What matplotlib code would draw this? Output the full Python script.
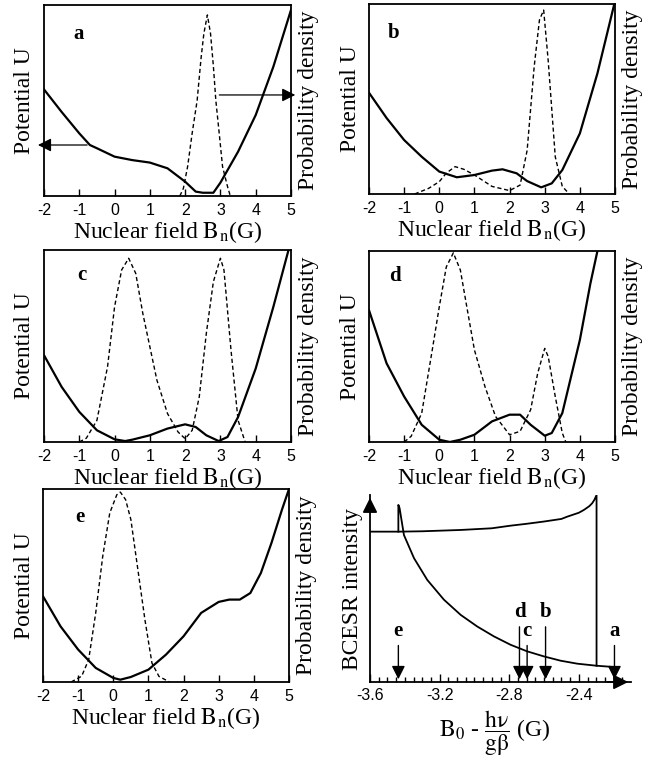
import matplotlib
matplotlib.use('Agg')
import matplotlib.pyplot as plt

plt.rcParams['font.family'] = ['Liberation Serif', 'DejaVu Serif']
plt.rcParams['mathtext.fontset'] = 'stix'
plt.rcParams['axes.unicode_minus'] = False

# potential U (solid) and probability density (dashed), normalised to axes height
pot_a_x = [-2, -1.5, -1, -0.7, -0.5, 0, 0.5, 1, 1.5, 2, 2.3, 2.5, 2.8, 3, 3.5, 4, 4.5, 5]
pot_a_y = [0.558, 0.44, 0.328, 0.267, 0.25, 0.206, 0.188, 0.175, 0.145, 0.075, 0.023, 0.017, 0.017, 0.07, 0.232, 0.424, 0.677, 0.974]
pdf_a_x = [1.85, 1.95, 2.07, 2.2, 2.34, 2.45, 2.53, 2.63, 2.72, 2.8, 2.87, 2.97, 3.06, 3.2, 3.28]
pdf_a_y = [0, 0.04, 0.154, 0.33, 0.5, 0.72, 0.85, 0.948, 0.85, 0.68, 0.5, 0.32, 0.154, 0.05, 0]

pot_b_x = [-2, -1.5, -1, -0.5, 0, 0.5, 1, 1.5, 1.8, 2.2, 2.5, 2.9, 3.2, 3.5, 4, 4.5, 4.98]
pot_b_y = [0.533, 0.40, 0.284, 0.196, 0.118, 0.088, 0.1, 0.123, 0.13, 0.109, 0.068, 0.035, 0.056, 0.126, 0.319, 0.635, 1.0]
pdf_b_x = [-0.7, -0.3, 0, 0.2, 0.45, 0.7, 1, 1.5, 2, 2.3, 2.5, 2.7, 2.85, 2.97, 3.1, 3.3, 3.5, 3.7]
pdf_b_y = [0, 0.03, 0.065, 0.11, 0.144, 0.13, 0.1, 0.04, 0.018, 0.047, 0.23, 0.67, 0.916, 0.968, 0.70, 0.196, 0.04, 0]

pot_c_x = [-2, -1.5, -1, -0.5, 0, 0.3, 0.5, 1, 1.5, 2, 2.3, 2.6, 2.95, 3.2, 3.5, 4, 4.5, 4.93]
pot_c_y = [0.452, 0.287, 0.157, 0.061, 0.014, 0.005, 0.012, 0.035, 0.07, 0.092, 0.078, 0.035, 0.005, 0.026, 0.13, 0.383, 0.704, 1.0]
pdf_c_x = [-1, -0.8, -0.5, -0.2, 0, 0.2, 0.4, 0.6, 0.8, 1, 1.2, 1.5, 1.8, 2, 2.2, 2.4, 2.6, 2.8, 3, 3.1, 3.3, 3.5, 3.7]
pdf_c_y = [0, 0.02, 0.113, 0.391, 0.704, 0.896, 0.957, 0.878, 0.67, 0.496, 0.322, 0.148, 0.052, 0.017, 0.061, 0.235, 0.565, 0.835, 0.957, 0.896, 0.478, 0.113, 0]

pot_d_x = [-2, -1.5, -1, -0.5, 0, 0.3, 0.6, 1, 1.5, 2, 2.3, 2.6, 3, 3.2, 3.5, 4, 4.3, 4.5]
pot_d_y = [0.69, 0.412, 0.238, 0.09, 0.012, 0, 0.012, 0.038, 0.108, 0.143, 0.143, 0.09, 0.033, 0.047, 0.151, 0.534, 0.83, 1.0]
pdf_d_x = [-1, -0.8, -0.5, -0.2, 0, 0.2, 0.4, 0.6, 0.8, 1, 1.3, 1.6, 2, 2.3, 2.6, 2.8, 3, 3.1, 3.3, 3.5, 3.6]
pdf_d_y = [0, 0.03, 0.151, 0.482, 0.708, 0.917, 0.99, 0.9, 0.69, 0.482, 0.29, 0.134, 0.038, 0.056, 0.169, 0.36, 0.49, 0.447, 0.238, 0.047, 0]

pot_e_x = [-2, -1.5, -1, -0.5, 0, 0.2, 0.5, 1, 1.5, 2, 2.5, 3, 3.3, 3.6, 3.9, 4.2, 4.5, 4.8, 5]
pot_e_y = [0.444, 0.288, 0.168, 0.073, 0.021, 0.012, 0.026, 0.064, 0.142, 0.237, 0.358, 0.415, 0.427, 0.427, 0.461, 0.565, 0.72, 0.893, 1.0]
pdf_e_x = [-1.2, -0.9, -0.7, -0.5, -0.3, -0.1, 0.1, 0.2, 0.35, 0.5, 0.7, 0.9, 1.1, 1.3, 1.6]
pdf_e_y = [0, 0.03, 0.116, 0.358, 0.652, 0.876, 0.97, 0.984, 0.945, 0.842, 0.582, 0.323, 0.098, 0.029, 0]

# BCESR spectrum
upper_x = [-3.6, -3.437, -3.3, -3.079, -2.9, -2.792, -2.7, -2.601, -2.5, -2.467, -2.4, -2.371, -2.34, -2.323, -2.31, -2.298, -2.298]
upper_y = [0.804, 0.804, 0.806, 0.813, 0.822, 0.836, 0.846, 0.858, 0.872, 0.884, 0.905, 0.92, 0.94, 0.956, 0.975, 1.0, 0.087]
lower_x = [-3.437, -3.437, -3.43, -3.405, -3.347, -3.271, -3.175, -3.079, -2.984, -2.888, -2.792, -2.697, -2.601, -2.505, -2.409, -2.298, -2.195]
lower_y = [0.804, 0.947, 0.93, 0.786, 0.662, 0.546, 0.44, 0.359, 0.297, 0.244, 0.199, 0.164, 0.137, 0.114, 0.098, 0.087, 0.08]
mark_labels = ['e', 'd', 'c', 'b', 'a']
mark_x = [-3.437, -2.741, -2.697, -2.591, -2.195]
mark_top = [0.21, 0.31, 0.21, 0.31, 0.21]

W, H = 657, 764
fig = plt.figure(figsize=(W / 100, H / 100), dpi=100)
FS = 17


def box(l, t, r, b):
    return [l / W, 1 - b / H, (r - l) / W, (b - t) / H]


def panel(rect, letter, ux, uy, px, py, lx, ly):
    ax = fig.add_axes(rect)
    ax.plot(ux, uy, color='k', lw=1.6)
    ax.plot(px, py, color='k', lw=1.0, linestyle=(0, (3, 2)))
    ax.set_xlim(-2, 5)
    ax.set_ylim(0, 1)
    ax.set_xticks(range(-2, 6))
    ax.set_yticks([])
    ax.tick_params(axis='x', direction='in', length=5, width=1, pad=5, labelsize=11.5)
    for t in ax.get_xticklabels():
        t.set_fontfamily('Liberation Sans')
    for s in ax.spines.values():
        s.set_linewidth(1.3)
    ax.set_xlabel(r'Nuclear field $\mathrm{B_n}$(G)', fontsize=FS, labelpad=1)
    ax.text(-0.077, 0.5, 'Potential U', transform=ax.transAxes, rotation=90,
            ha='center', va='center', fontsize=FS)
    ax.text(1.07, 0.5, 'Probability density', transform=ax.transAxes, rotation=90,
            ha='center', va='center', fontsize=FS)
    ax.text(lx, ly, letter, transform=ax.transAxes, ha='center', va='center',
            fontsize=15, fontweight='bold')
    return ax


ax_a = panel(box(44, 5, 291, 196), 'a', pot_a_x, pot_a_y, pdf_a_x, pdf_a_y, 0.138, 0.85)
arr = dict(arrowstyle='-|>', color='k', lw=0.9, mutation_scale=20)
ax_a.annotate('', xy=(-2.25, 0.267), xytext=(-0.7, 0.267), arrowprops=arr, annotation_clip=False)
ax_a.annotate('', xy=(5.2, 0.529), xytext=(2.89, 0.529), arrowprops=arr, annotation_clip=False)

panel(box(369, 4, 615, 194), 'b', pot_b_x, pot_b_y, pdf_b_x, pdf_b_y, 0.10, 0.85)
panel(box(44, 250, 291, 442), 'c', pot_c_x, pot_c_y, pdf_c_x, pdf_c_y, 0.154, 0.87)
panel(box(369, 251, 615, 442), 'd', pot_d_x, pot_d_y, pdf_d_x, pdf_d_y, 0.106, 0.87)
panel(box(43, 489, 289, 682), 'e', pot_e_x, pot_e_y, pdf_e_x, pdf_e_y, 0.15, 0.855)

# BCESR panel
ax = fig.add_axes(box(370, 495, 631, 682))
ax.plot(upper_x, upper_y, color='k', lw=1.3)
ax.plot(lower_x, lower_y, color='k', lw=1.3)
ax.set_xlim(-3.6, -2.1)
ax.set_ylim(0, 1)
ax.spines['top'].set_visible(False)
ax.spines['right'].set_visible(False)
ax.spines['left'].set_linewidth(1.3)
ax.spines['bottom'].set_linewidth(1.3)
ax.set_yticks([])
ax.set_xticks([-3.6, -3.2, -2.8, -2.4])
ax.set_xticklabels(['-3.6', '-3.2', '-2.8', '-2.4'], fontfamily='Liberation Sans')
ax.set_xticks([-3.6 + 0.05 * i for i in range(30)], minor=True)
ax.tick_params(axis='x', which='major', direction='in', length=6, width=1, pad=4, labelsize=11.5)
ax.tick_params(axis='x', which='minor', direction='in', length=3.5, width=1)
ax.annotate('', xy=(1.0, 0), xytext=(0.9, 0), xycoords='axes fraction',
            arrowprops=dict(arrowstyle='-|>', color='k', lw=1.3, mutation_scale=22), annotation_clip=False)
ax.annotate('', xy=(0, 1.0), xytext=(0, 0.9), xycoords='axes fraction',
            arrowprops=dict(arrowstyle='-|>', color='k', lw=1.3, mutation_scale=22), annotation_clip=False)
for lab, mx, top in zip(mark_labels, mark_x, mark_top):
    ax.annotate('', xy=(mx, 0), xytext=(mx, top),
                arrowprops=dict(arrowstyle='-|>', color='k', lw=1.0, mutation_scale=20))
    ax.text(mx, top + 0.065, lab, ha='center', va='center', fontsize=15, fontweight='bold')
ax.set_ylabel('BCESR intensity', fontsize=FS, labelpad=5)
fig.text(495 / W, 1 - 733 / H, r'$\mathrm{B_0}$ - $\dfrac{\mathrm{h\nu}}{\mathrm{g\beta}}$ (G)',
         ha='center', va='center', fontsize=FS)

fig.savefig('out.png', dpi=100)
